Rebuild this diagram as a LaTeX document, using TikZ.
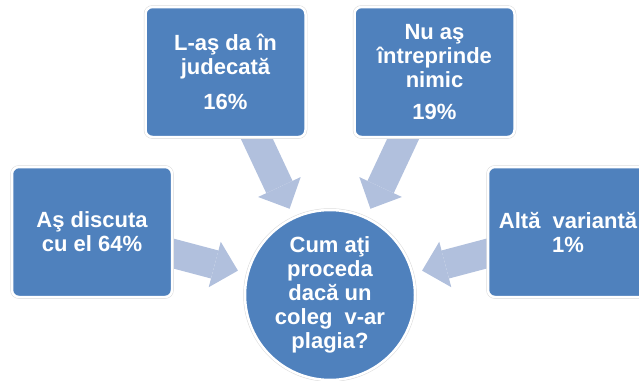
\documentclass[tikz,border=0pt]{standalone}
\usepackage{fontspec}
\setmainfont{Liberation Sans}
\usetikzlibrary{arrows.meta, backgrounds}

\definecolor{boxblue}{RGB}{79,129,189}
\definecolor{arrowblue}{RGB}{177,192,221}

\begin{document}
\begin{tikzpicture}[
    x=1pt, y=1pt,
    answer/.style={rectangle, rounded corners=7pt, fill=boxblue, draw=white, line width=2.5pt,
      preaction={draw=black!15, line width=3.5pt}, minimum width=160pt, minimum height=130pt,
      text=white, align=center, font=\bfseries\fontsize{22}{24}\selectfont},
    question/.style={answer, circle, minimum size=170pt, inner sep=0pt},
    flow/.style={draw=arrowblue, line width=29pt, shorten >=9pt,
      -{Triangle[width=47pt, length=24pt, line width=0pt]}}
  ]
  \useasboundingbox (0,0) rectangle (639,-380);

%% the question in the middle, the four answers around it
  \node[question] (Q) at (330,-295) {Cum aţi\\proceda\\dacă un\\coleg\ \ v-ar\\plagia?};

  \node[answer] (judecata) at (225.5,-72) {L-aş da în\\judecată\\[11pt]16\%};
  \node[answer] (nimic) at (434.5,-72) {Nu aş\\întreprinde\\nimic\\[8pt]19\%};
  \node[answer] (discuta) at (92,-232) {Aş discuta\\cu el 64\%};
  \node[answer] (alta) at (568,-232) {Altă\ \ variantă\\1\%};

%% arrows start under the boxes
  \begin{scope}[on background layer]
    \draw[flow] (judecata.center) -- (Q);
    \draw[flow] (nimic.center) -- (Q);
    \draw[flow] (discuta.center) -- (Q);
    \draw[flow] (alta.center) -- (Q);
  \end{scope}

\end{tikzpicture}
\end{document}
